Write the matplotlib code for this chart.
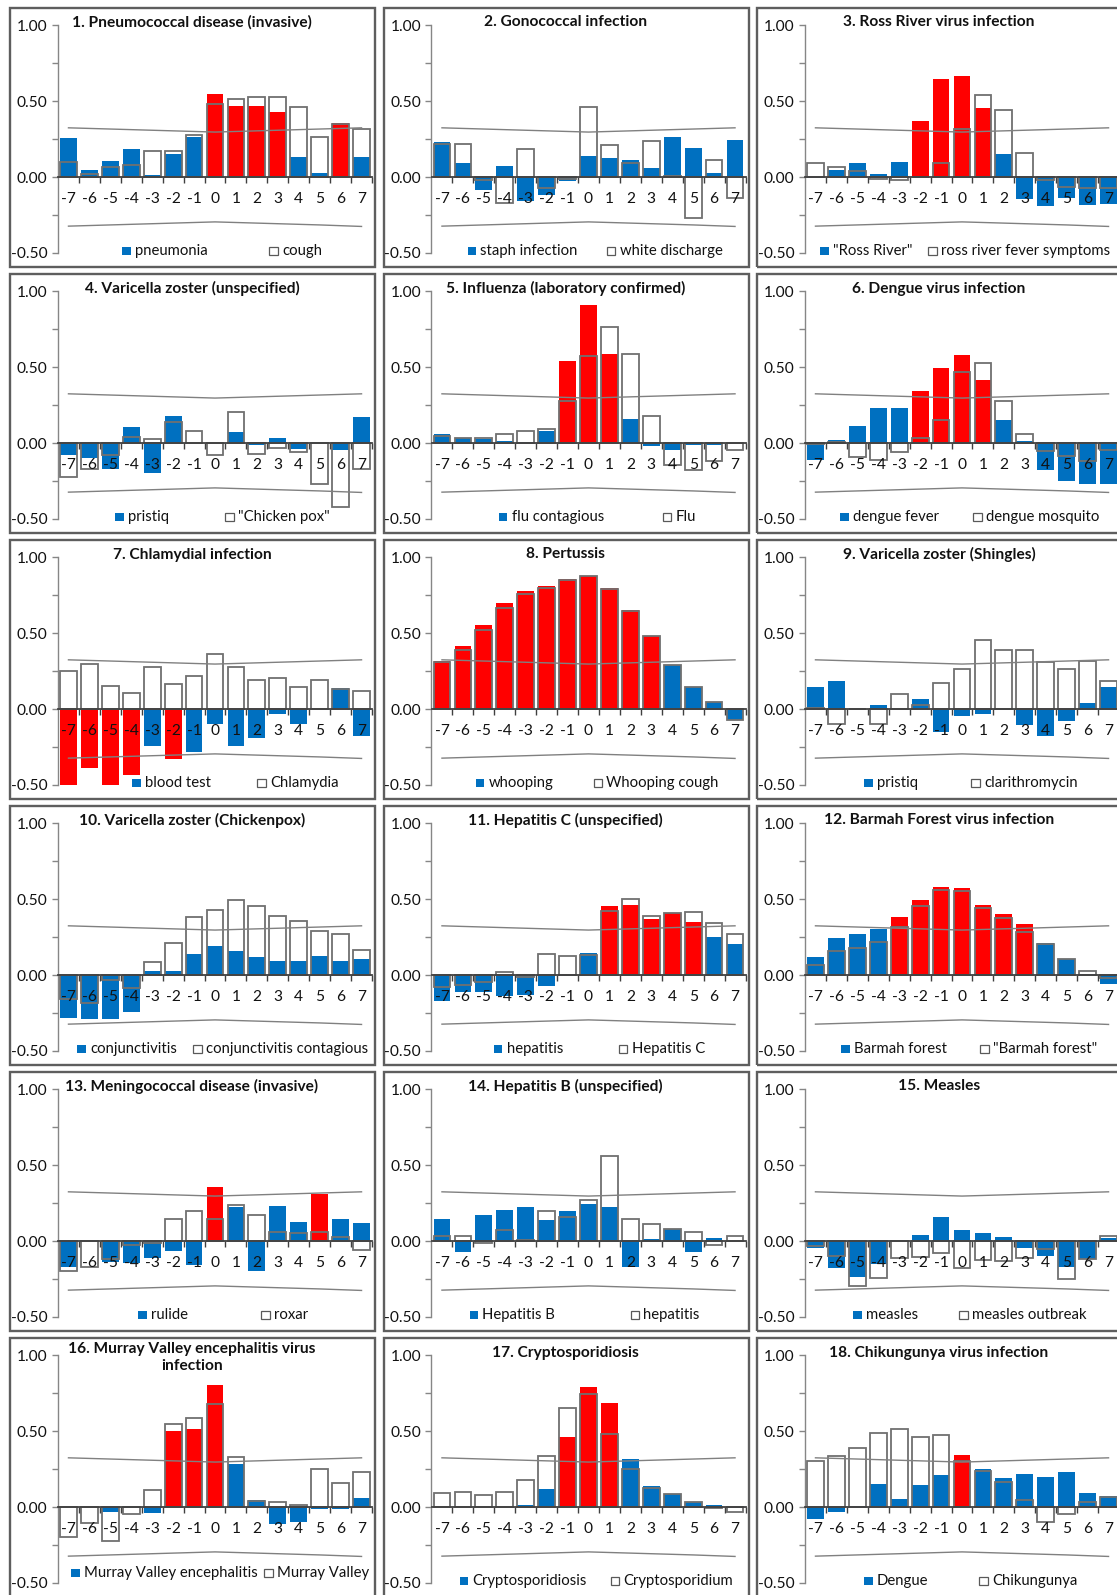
import matplotlib
matplotlib.use("Agg")
import matplotlib.pyplot as plt
from matplotlib.patches import Rectangle
import numpy as np

plt.rcParams['font.family'] = ['Lato', 'DejaVu Sans']

# ---------------- data ----------------
lags = [-7, -6, -5, -4, -3, -2, -1, 0, 1, 2, 3, 4, 5, 6, 7]
lag_labels = ['-7', '-6', '-5', '-4', '-3', '-2', '-1', '0', '1', '2', '3', '4', '5', '6', '7']
upper_limit = [0.325, 0.321, 0.317, 0.313, 0.309, 0.305, 0.301, 0.297, 0.301, 0.305, 0.309, 0.313, 0.317, 0.321, 0.325]
lower_limit = [-0.323, -0.319, -0.315, -0.311, -0.307, -0.303, -0.299, -0.295, -0.299, -0.303, -0.307, -0.311, -0.315, -0.320, -0.325]
y_ticks = [-0.5, 0.0, 0.5, 1.0]
y_tick_labels = ['-0.50', '0.00', '0.50', '1.00']

p1_title = "1. Pneumococcal disease (invasive)"
p1_names = ["pneumonia", "cough"]
p1_blue = [0.26, 0.05, 0.105, 0.185, 0.017, 0.15, 0.265, 0.55, 0.47, 0.47, 0.43, 0.13, 0.03, 0.36, 0.13]
p1_white = [0.10, 0.02, 0.07, 0.08, 0.17, 0.175, 0.28, 0.48, 0.515, 0.525, 0.525, 0.46, 0.265, 0.35, 0.32]
p1_red = [0, 1, 2, 3, 6]

p2_title = "2. Gonococcal infection"
p2_names = ["staph infection", "white discharge"]
p2_blue = [0.23, 0.09, -0.083, 0.075, -0.157, -0.12, -0.026, 0.14, 0.125, 0.11, 0.06, 0.265, 0.195, 0.03, 0.245]
p2_white = [0.22, 0.22, -0.02, -0.17, 0.185, -0.07, -0.01, 0.46, 0.21, 0.09, 0.24, 0.005, -0.27, 0.11, -0.14]
p2_red = []

p3_title = "3. Ross River virus infection"
p3_names = ['"Ross River"', "ross river fever symptoms"]
p3_blue = [-0.005, 0.048, 0.09, 0.02, 0.10, 0.373, 0.644, 0.668, 0.456, 0.153, -0.142, -0.19, -0.135, -0.186, -0.18]
p3_white = [0.094, 0.068, 0.04, -0.015, -0.02, 0.0, 0.09, 0.32, 0.544, 0.44, 0.16, -0.02, -0.065, -0.072, -0.07]
p3_red = [-2, -1, 0, 1]

p4_title = "4. Varicella zoster (unspecified)"
p4_names = ["pristiq", '"Chicken pox"']
p4_blue = [-0.076, -0.096, -0.168, 0.107, -0.20, 0.18, 0.0, 0.0, 0.076, -0.015, 0.037, -0.037, 0.0, -0.044, 0.175]
p4_white = [-0.22, -0.17, -0.08, 0.04, 0.026, 0.14, 0.08, -0.076, 0.205, -0.07, -0.035, -0.06, -0.27, -0.424, -0.17]
p4_red = []

p5_title = "5. Influenza (laboratory confirmed)"
p5_names = ["flu contagious", "Flu"]
p5_blue = [0.057, 0.033, 0.026, 0.013, 0.005, 0.079, 0.54, 0.91, 0.587, 0.16, -0.022, -0.044, -0.01, -0.011, 0.0]
p5_white = [0.05, 0.033, 0.037, 0.063, 0.08, 0.096, 0.277, 0.574, 0.764, 0.59, 0.18, -0.142, -0.177, -0.116, -0.048]
p5_red = [-1, 0, 1]

p6_title = "6. Dengue virus infection"
p6_names = ["dengue fever", "dengue mosquito"]
p6_blue = [-0.11, 0.02, 0.116, 0.234, 0.234, 0.345, 0.496, 0.58, 0.417, 0.153, 0.011, -0.177, -0.247, -0.27, -0.27]
p6_white = [-0.005, 0.005, -0.092, -0.11, -0.057, 0.037, 0.153, 0.47, 0.526, 0.277, 0.061, -0.052, -0.085, -0.116, -0.046]
p6_red = [-2, -1, 0, 1]

p7_title = "7. Chlamydial infection"
p7_names = ["blood test", "Chlamydia"]
p7_blue = [-0.50, -0.386, -0.50, -0.437, -0.245, -0.33, -0.28, -0.10, -0.242, -0.19, -0.033, -0.098, 0.0, 0.142, -0.175]
p7_white = [0.253, 0.297, 0.15, 0.105, 0.277, 0.164, 0.218, 0.362, 0.277, 0.192, 0.205, 0.146, 0.192, 0.13, 0.118]
p7_red = [-7, -6, -5, -4, -2]

p8_title = "8. Pertussis"
p8_names = ["whooping", "Whooping cough"]
p8_blue = [0.32, 0.415, 0.555, 0.70, 0.78, 0.812, 0.856, 0.878, 0.797, 0.655, 0.48, 0.293, 0.146, 0.046, -0.072]
p8_white = [0.308, 0.393, 0.52, 0.668, 0.762, 0.797, 0.85, 0.878, 0.795, 0.65, 0.48, 0.29, 0.146, 0.046, -0.07]
p8_red = [-7, -6, -5, -4, -3, -2, -1, 0, 1, 2, 3]

p9_title = "9. Varicella zoster (Shingles)"
p9_names = ["pristiq", "clarithromycin"]
p9_blue = [0.148, 0.186, 0.003, 0.026, 0.0, 0.066, -0.15, -0.044, -0.035, 0.0, -0.105, -0.175, -0.08, 0.04, 0.144]
p9_white = [0.007, -0.10, 0.003, -0.10, 0.10, 0.026, 0.175, 0.266, 0.458, 0.393, 0.393, 0.31, 0.266, 0.314, 0.186]
p9_red = []

p10_title = "10. Varicella zoster (Chickenpox)"
p10_names = ["conjunctivitis", "conjunctivitis contagious"]
p10_blue = [-0.28, -0.29, -0.286, -0.245, 0.028, 0.03, 0.138, 0.192, 0.157, 0.12, 0.094, 0.096, 0.127, 0.096, 0.105]
p10_white = [-0.155, -0.183, -0.033, -0.085, 0.085, 0.21, 0.386, 0.43, 0.496, 0.454, 0.39, 0.358, 0.288, 0.268, 0.168]
p10_red = []

p11_title = "11. Hepatitis C (unspecified)"
p11_names = ["hepatitis", "Hepatitis C"]
p11_blue = [-0.172, -0.113, -0.113, -0.135, -0.133, -0.07, -0.005, 0.148, 0.454, 0.46, 0.371, 0.41, 0.347, 0.249, 0.207]
p11_white = [-0.08, -0.063, -0.044, 0.02, -0.015, 0.138, 0.125, 0.13, 0.424, 0.50, 0.389, 0.41, 0.413, 0.343, 0.268]
p11_red = [1, 2, 3, 4, 5]

p12_title = "12. Barmah Forest virus infection"
p12_names = ["Barmah forest", '"Barmah forest"']
p12_blue = [0.12, 0.242, 0.269, 0.306, 0.384, 0.493, 0.579, 0.574, 0.459, 0.402, 0.334, 0.212, 0.107, 0.005, -0.06]
p12_white = [0.07, 0.162, 0.179, 0.22, 0.314, 0.456, 0.561, 0.552, 0.443, 0.376, 0.286, 0.207, 0.107, 0.028, -0.02]
p12_red = [-3, -2, -1, 0, 1, 2, 3]

p13_title = "13. Meningococcal disease (invasive)"
p13_names = ["rulide", "roxar"]
p13_blue = [-0.168, 0.0, -0.14, -0.144, -0.11, -0.068, -0.16, 0.358, 0.225, -0.20, 0.234, 0.124, 0.312, 0.144, 0.122]
p13_white = [-0.20, -0.172, -0.118, -0.026, -0.01, 0.148, 0.20, 0.148, 0.238, 0.17, 0.061, 0.055, 0.061, 0.026, -0.06]
p13_red = [0, 5]

p14_title = "14. Hepatitis B (unspecified)"
p14_names = ["Hepatitis B", "hepatitis"]
p14_blue = [0.144, -0.072, 0.17, 0.203, 0.223, 0.138, 0.20, 0.247, 0.223, -0.172, 0.011, 0.079, -0.07, 0.022, 0.0]
p14_white = [0.037, 0.035, -0.015, 0.074, 0.009, 0.20, 0.162, 0.273, 0.559, 0.146, 0.114, 0.083, 0.063, -0.026, 0.035]
p14_red = []

p15_title = "15. Measles"
p15_names = ["measles", "measles outbreak"]
p15_blue = [-0.044, -0.18, -0.238, -0.15, 0.0, 0.04, 0.16, 0.074, 0.055, 0.03, -0.044, -0.098, -0.172, -0.12, 0.02]
p15_white = [-0.03, -0.098, -0.293, -0.24, -0.11, -0.105, -0.076, -0.18, -0.124, -0.13, -0.11, -0.055, -0.25, -0.116, 0.033]
p15_red = []

p16_title = "16. Murray Valley encephalitis virus\ninfection"
p16_names = ["Murray Valley encephalitis", "Murray Valley"]
p16_blue = [0.0, 0.0, -0.03, -0.005, -0.04, 0.502, 0.517, 0.806, 0.286, 0.046, -0.111, -0.10, -0.01, -0.015, 0.06]
p16_white = [-0.20, -0.107, -0.225, -0.044, 0.11, 0.55, 0.585, 0.68, 0.33, 0.04, 0.033, 0.011, 0.253, 0.157, 0.23]
p16_red = [-2, -1, 0]

p17_title = "17. Cryptosporidiosis"
p17_names = ["Cryptosporidiosis", "Cryptosporidium"]
p17_blue = [0.0, 0.003, 0.003, 0.003, 0.015, 0.122, 0.465, 0.795, 0.686, 0.317, 0.138, 0.085, 0.037, 0.011, -0.005]
p17_white = [0.092, 0.098, 0.08, 0.098, 0.18, 0.338, 0.653, 0.745, 0.48, 0.25, 0.129, 0.085, 0.037, -0.004, -0.03]
p17_red = [-1, 0, 1]

p18_title = "18. Chikungunya virus infection"
p18_names = ["Dengue", "Chikungunya"]
p18_blue = [-0.079, -0.03, 0.009, 0.153, 0.055, 0.144, 0.214, 0.343, 0.249, 0.192, 0.216, 0.197, 0.231, 0.09, 0.076]
p18_white = [0.306, 0.338, 0.389, 0.487, 0.513, 0.46, 0.474, 0.303, 0.24, 0.166, 0.048, -0.096, -0.044, 0.035, 0.07]
p18_red = [0]

panels = [
    (p1_title, p1_names, p1_blue, p1_white, p1_red),
    (p2_title, p2_names, p2_blue, p2_white, p2_red),
    (p3_title, p3_names, p3_blue, p3_white, p3_red),
    (p4_title, p4_names, p4_blue, p4_white, p4_red),
    (p5_title, p5_names, p5_blue, p5_white, p5_red),
    (p6_title, p6_names, p6_blue, p6_white, p6_red),
    (p7_title, p7_names, p7_blue, p7_white, p7_red),
    (p8_title, p8_names, p8_blue, p8_white, p8_red),
    (p9_title, p9_names, p9_blue, p9_white, p9_red),
    (p10_title, p10_names, p10_blue, p10_white, p10_red),
    (p11_title, p11_names, p11_blue, p11_white, p11_red),
    (p12_title, p12_names, p12_blue, p12_white, p12_red),
    (p13_title, p13_names, p13_blue, p13_white, p13_red),
    (p14_title, p14_names, p14_blue, p14_white, p14_red),
    (p15_title, p15_names, p15_blue, p15_white, p15_red),
    (p16_title, p16_names, p16_blue, p16_white, p16_red),
    (p17_title, p17_names, p17_blue, p17_white, p17_red),
    (p18_title, p18_names, p18_blue, p18_white, p18_red),
]

# ---------------- layout (pixels) ----------------
W, H = 1117, 1595
BLUE = '#0070C0'
RED = '#FF0000'
EDGE = '#707070'
FS = 11.2
LFS = 10.7

# legend marker x offsets within each frame (px)
legend_x = [(112, 259), (84, 223), (63, 171),
            (105, 215), (115, 279), (83, 216),
            (122, 247), (92, 210), (107, 214),
            (67, 183), (110, 235), (84, 223),
            (128, 251), (86, 247), (96, 202),
            (61, 254), (76, 227), (107, 222)]

fig = plt.figure(figsize=(W / 100, H / 100), dpi=100)
fig.patch.set_facecolor('white')


def fx(x):
    return x / W


def fy(y):
    return 1 - y / H


for i, (title, names, blue, white, red_lags) in enumerate(panels):
    r, c = divmod(i, 3)
    fl = 10 + 373.5 * c
    ft = 8 + 266 * r
    fw, fh = 365, 259
    # chart frame
    fig.add_artist(Rectangle((fx(fl), fy(ft + fh)), fw / W, fh / H,
                             transform=fig.transFigure, facecolor='none',
                             edgecolor='#5E5E5E', lw=1.7, zorder=0))
    al, at, aw, ah = fl + 48, ft + 17.4, 314, 227.6
    ax = fig.add_axes([fx(al), fy(at + ah), aw / W, ah / H])
    ax.set_facecolor('none')
    ax.set_xlim(-7.5, 7.5)
    ax.set_ylim(-0.5, 1.0)

    colors = [RED if lg in red_lags else BLUE for lg in lags]
    ax.bar(lags, blue, width=0.8, color=colors, edgecolor='none', zorder=1)
    ax.bar(lags, white, width=0.8, facecolor='none', edgecolor=EDGE, lw=1.3, zorder=1.5)
    ax.plot(lags, upper_limit, color='#808080', lw=1.0, zorder=3)
    ax.plot(lags, lower_limit, color='#808080', lw=1.0, zorder=3)

    for s in ['top', 'right']:
        ax.spines[s].set_visible(False)
    ax.spines['left'].set_color('#868686')
    ax.spines['left'].set_linewidth(1.0)
    ax.spines['bottom'].set_position(('data', 0))
    ax.spines['bottom'].set_color('#404040')
    ax.spines['bottom'].set_linewidth(1.3)
    ax.spines['bottom'].set_zorder(4)

    ax.set_xticks(lags)
    ax.set_xticklabels(lag_labels, fontsize=FS, color='#111111')
    ax.set_xticks(np.arange(-6.5, 8.0, 1.0), minor=True)
    ax.tick_params(axis='x', which='major', length=0, pad=10.5)
    ax.tick_params(axis='x', which='minor', length=4, direction='out', color='#404040', width=1.0)

    ax.set_yticks(y_ticks)
    ax.set_yticklabels(y_tick_labels, fontsize=FS, color='#111111')
    ax.set_yticks([-0.25, 0.25, 0.75], minor=True)
    ax.tick_params(axis='y', which='both', length=4.5, direction='out', color='#868686', width=1.0, pad=3)
    ax.set_axisbelow(False)

    # title
    if '\n' in title:
        fig.text(fx(fl + 182), fy(ft + 4), title, ha='center', va='top',
                 fontsize=FS, fontweight='bold', linespacing=1.25, color='#111111')
    else:
        fig.text(fx(fl + 182), fy(ft + 14.5), title, ha='center', va='center',
                 fontsize=FS, fontweight='bold', color='#111111')

    # legend
    ly = ft + (235 if i == 15 else 243)
    bx, wx = legend_x[i]
    ms = 8.5
    gap = 4.5
    fig.add_artist(Rectangle((fx(fl + bx), fy(ly + ms / 2)), ms / W, ms / H,
                             transform=fig.transFigure, facecolor=BLUE, edgecolor='none'))
    fig.text(fx(fl + bx + ms + gap), fy(ly), names[0], ha='left', va='center', fontsize=LFS, color='#111111')
    fig.add_artist(Rectangle((fx(fl + wx), fy(ly + ms / 2)), ms / W, ms / H,
                             transform=fig.transFigure, facecolor='white', edgecolor='#595959', lw=0.9))
    fig.text(fx(fl + wx + ms + gap), fy(ly), names[1], ha='left', va='center', fontsize=LFS, color='#111111')

fig.savefig('out.png', dpi=100)
